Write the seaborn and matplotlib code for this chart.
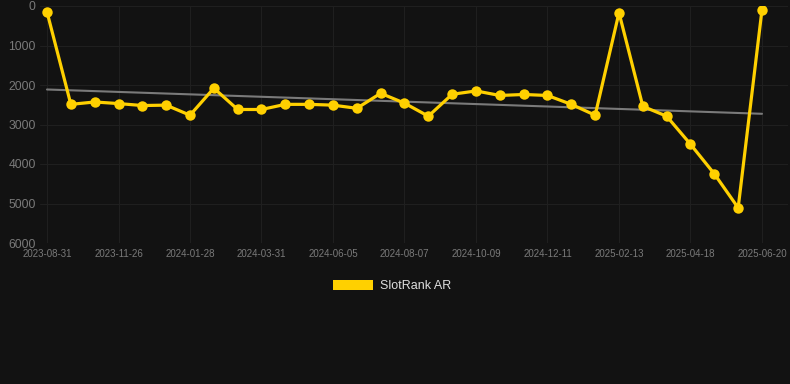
import numpy as np
import pandas as pd
import matplotlib
matplotlib.use("Agg")
import matplotlib.pyplot as plt
import seaborn as sns
from matplotlib.patches import Patch

# ---- data ----
tick_dates = ["2023-08-31", "2023-11-26", "2024-01-28", "2024-03-31", "2024-06-05",
              "2024-08-07", "2024-10-09", "2024-12-11", "2025-02-13", "2025-04-18",
              "2025-06-20"]
rank_values = [150, 2490, 2430, 2470, 2520, 2510, 2765, 2080, 2620, 2620,
               2490, 2490, 2510, 2590, 2210, 2460, 2790, 2235, 2150, 2265,
               2240, 2265, 2490, 2765, 170, 2540, 2790, 3500, 4250, 5110, 95]
series_name = "SlotRank AR"

df = pd.DataFrame({"idx": np.arange(len(rank_values)), "rank": rank_values})

# ---- style ----
BG = "#121212"
GOLD = "#FFD000"
sns.set_theme(style="dark")
plt.rcParams["font.family"] = ["Liberation Sans", "DejaVu Sans"]

fig = plt.figure(figsize=(7.9, 3.84), dpi=100, facecolor=BG)
ax = fig.add_axes([40 / 790, 1 - 243 / 384, 748 / 790, (243 - 6) / 384])
ax.set_facecolor(BG)

sns.regplot(data=df, x="idx", y="rank", scatter=False, ci=None, ax=ax,
            line_kws=dict(color="#7a7a7a", lw=1.5, zorder=2))
sns.lineplot(data=df, x="idx", y="rank", ax=ax, color=GOLD, lw=2.3,
             marker="o", markersize=7.5, markeredgewidth=0, zorder=3)

n = len(rank_values)
ax.set_xlim(-7 / 23.83, (n - 1) + 26 / 23.83)
ax.set_ylim(6000, 0)
ax.set_yticks([0, 1000, 2000, 3000, 4000, 5000, 6000])
ax.set_xticks(np.arange(0, n, 3))
ax.set_xticklabels(tick_dates)
ax.set_xlabel("")
ax.set_ylabel("")
ax.grid(True, color="#1f1f1f", lw=0.8)
for s in ax.spines.values():
    s.set_visible(False)
ax.tick_params(axis="y", colors="#7a7a7a", labelsize=8.7, length=0, pad=3)
ax.tick_params(axis="x", colors="#7a7a7a", labelsize=7, length=0, pad=4)

fig.legend(handles=[Patch(facecolor=GOLD, edgecolor="none", label=series_name)],
           loc="center", bbox_to_anchor=(392 / 790, 1 - 286 / 384), frameon=False,
           fontsize=9, labelcolor="#dddddd", handlelength=3.2, handleheight=0.95,
           handletextpad=0.5)

fig.savefig("out.png", dpi=100, facecolor=BG)
